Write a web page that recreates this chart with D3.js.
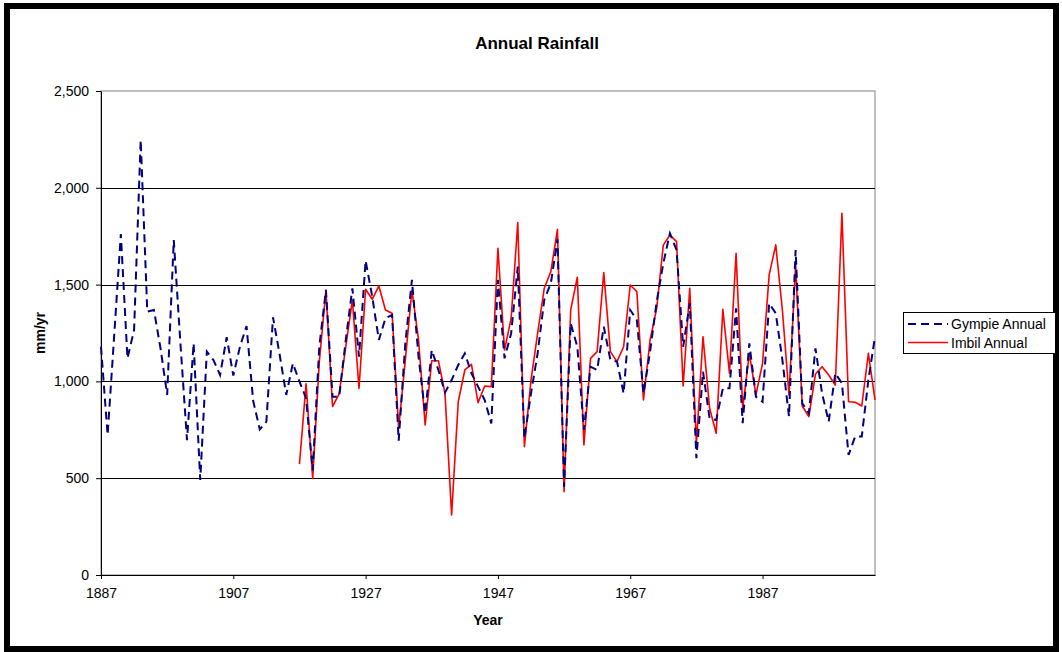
<!DOCTYPE html>
<html>
<head>
<meta charset="utf-8">
<script src="https://cdn.jsdelivr.net/npm/d3@7"></script>
<style>
  html, body { margin: 0; padding: 0; background: #fff; }
  svg { display: block; font-family: Arial, "Liberation Sans", sans-serif; }
</style>
</head>
<body>
<svg id="chart" width="1062" height="652"></svg>
<script>
const firstYear = 1887;
const lastYear = 2004;
const imbilStart = 1917;

const gympie = [
  1179, 723, 1240, 1761, 1119, 1265, 2247, 1360, 1369, 1170,
  930, 1730, 1200, 697, 1197, 491, 1154, 1110, 1033, 1228,
  1030, 1179, 1286, 900, 752, 792, 1331, 1140, 930, 1093,
  1000, 912, 540, 1180, 1472, 921, 921, 1214, 1481, 1128,
  1624, 1438, 1214, 1326, 1343, 694, 1197, 1524, 1128, 835,
  1162, 1059, 942, 1007, 1085, 1145, 1042, 973, 904, 783,
  1524, 1119, 1248, 1593, 706, 938, 1145, 1420, 1507, 1734,
  456, 1300, 1179, 749, 1076, 1059, 1283, 1111, 1102, 938,
  1369, 1317, 938, 1154, 1412, 1610, 1765, 1679, 1179, 1403,
  603, 1050, 809, 801, 964, 964, 1377, 784, 1197, 921,
  895, 1403, 1352, 1111, 818, 1679, 887, 835, 1171, 938,
  792, 1042, 990, 620, 715, 715, 1007, 1231
];

const imbil = [
  573, 987, 499, 1100, 1472, 870, 935, 1179, 1420, 964,
  1476, 1424, 1493, 1369, 1352, 758, 1110, 1472, 1214, 775,
  1107, 1107, 938, 310, 895, 1059, 1088, 890, 976, 973,
  1687, 1162, 1326, 1820, 663, 1007, 1248, 1481, 1567, 1785,
  430, 1369, 1538, 672, 1119, 1154, 1562, 1154, 1102, 1179,
  1498, 1464, 904, 1214, 1377, 1704, 1756, 1722, 976, 1481,
  680, 1231, 861, 732, 1372, 1042, 1662, 861, 1145, 930,
  1093, 1550, 1705, 1369, 930, 1601, 873, 818, 1038, 1076,
  1033, 981, 1868, 895, 892, 873, 1145, 904
];

const xTickLabels = [1887, 1907, 1927, 1947, 1967, 1987];
const yTickValues = [0, 500, 1000, 1500, 2000, 2500];
const seriesNames = ["Gympie Annual", "Imbil Annual"];

const svg = d3.select("#chart");
const plot = { left: 101, top: 91, right: 875, bottom: 575 };

// outer frame
svg.append("rect").attr("x", 7).attr("y", 6).attr("width", 1049).attr("height", 643)
  .attr("fill", "none").attr("stroke", "#000").attr("stroke-width", 6);

const x = d3.scaleLinear().domain([firstYear, lastYear]).range([plot.left, plot.right]);
const y = d3.scaleLinear().domain([0, 2500]).range([plot.bottom, plot.top]);

// plot border
svg.append("rect").attr("x", plot.left).attr("y", plot.top)
  .attr("width", plot.right - plot.left).attr("height", plot.bottom - plot.top)
  .attr("fill", "none").attr("stroke", "#808080").attr("stroke-width", 1);

// gridlines
svg.append("g").selectAll("line").data(yTickValues.filter(v => v > 0 && v < 2500)).join("line")
  .attr("x1", plot.left).attr("x2", plot.right)
  .attr("y1", d => Math.round(y(d)) + 0.5).attr("y2", d => Math.round(y(d)) + 0.5)
  .attr("stroke", "#000").attr("stroke-width", 1);

// axes
const yAxis = svg.append("g").attr("transform", `translate(${plot.left},0)`)
  .call(d3.axisLeft(y).tickValues(yTickValues).tickFormat(d3.format(",")).tickSize(5).tickPadding(7).tickSizeOuter(0));
const xAxis = svg.append("g").attr("transform", `translate(0,${plot.bottom})`)
  .call(d3.axisBottom(x).tickValues(xTickLabels).tickFormat(d3.format("d")).tickSize(4).tickPadding(9).tickSizeOuter(0));
[yAxis, xAxis].forEach(g => {
  g.selectAll("text").attr("font-size", 14).attr("font-family", "Arial, 'Liberation Sans', sans-serif").attr("fill", "#000");
  g.selectAll("line").attr("stroke", "#000");
  g.select(".domain").attr("stroke", "#000");
});

// lines
const gData = gympie.map((v, i) => ({ year: firstYear + i, v }));
const iData = imbil.map((v, i) => ({ year: imbilStart + i, v }));
const line = d3.line().x(d => x(d.year)).y(d => y(d.v));

svg.append("path").datum(iData).attr("d", line)
  .attr("fill", "none").attr("stroke", "#FF0000").attr("stroke-width", 1.6).attr("stroke-linejoin", "round");
svg.append("path").datum(gData).attr("d", line)
  .attr("fill", "none").attr("stroke", "#000080").attr("stroke-width", 2).attr("stroke-dasharray", "8,5");

// title and axis labels
svg.append("text").attr("x", 537).attr("y", 49).attr("text-anchor", "middle")
  .attr("font-size", 17).attr("font-weight", "bold").text("Annual Rainfall");
svg.append("text").attr("x", 488).attr("y", 625).attr("text-anchor", "middle")
  .attr("font-size", 14).attr("font-weight", "bold").text("Year");
svg.append("text").attr("transform", "translate(45,333) rotate(-90)").attr("text-anchor", "middle")
  .attr("font-size", 14).attr("font-weight", "bold").text("mm/yr");

// legend
const lg = svg.append("g");
lg.append("rect").attr("x", 903.5).attr("y", 312.5).attr("width", 152).attr("height", 41)
  .attr("fill", "#fff").attr("stroke", "#000").attr("stroke-width", 1);
const legendItems = [
  { name: seriesNames[0], color: "#000080", dash: "8,5", w: 2, yy: 324 },
  { name: seriesNames[1], color: "#FF0000", dash: null, w: 1.6, yy: 342.5 }
];
legendItems.forEach(it => {
  lg.append("line").attr("x1", 908).attr("x2", 948).attr("y1", it.yy).attr("y2", it.yy)
    .attr("stroke", it.color).attr("stroke-width", it.w).attr("stroke-dasharray", it.dash);
  lg.append("text").attr("x", 951).attr("y", it.yy + 5).attr("font-size", 14).text(it.name);
});
</script>
</body>
</html>
